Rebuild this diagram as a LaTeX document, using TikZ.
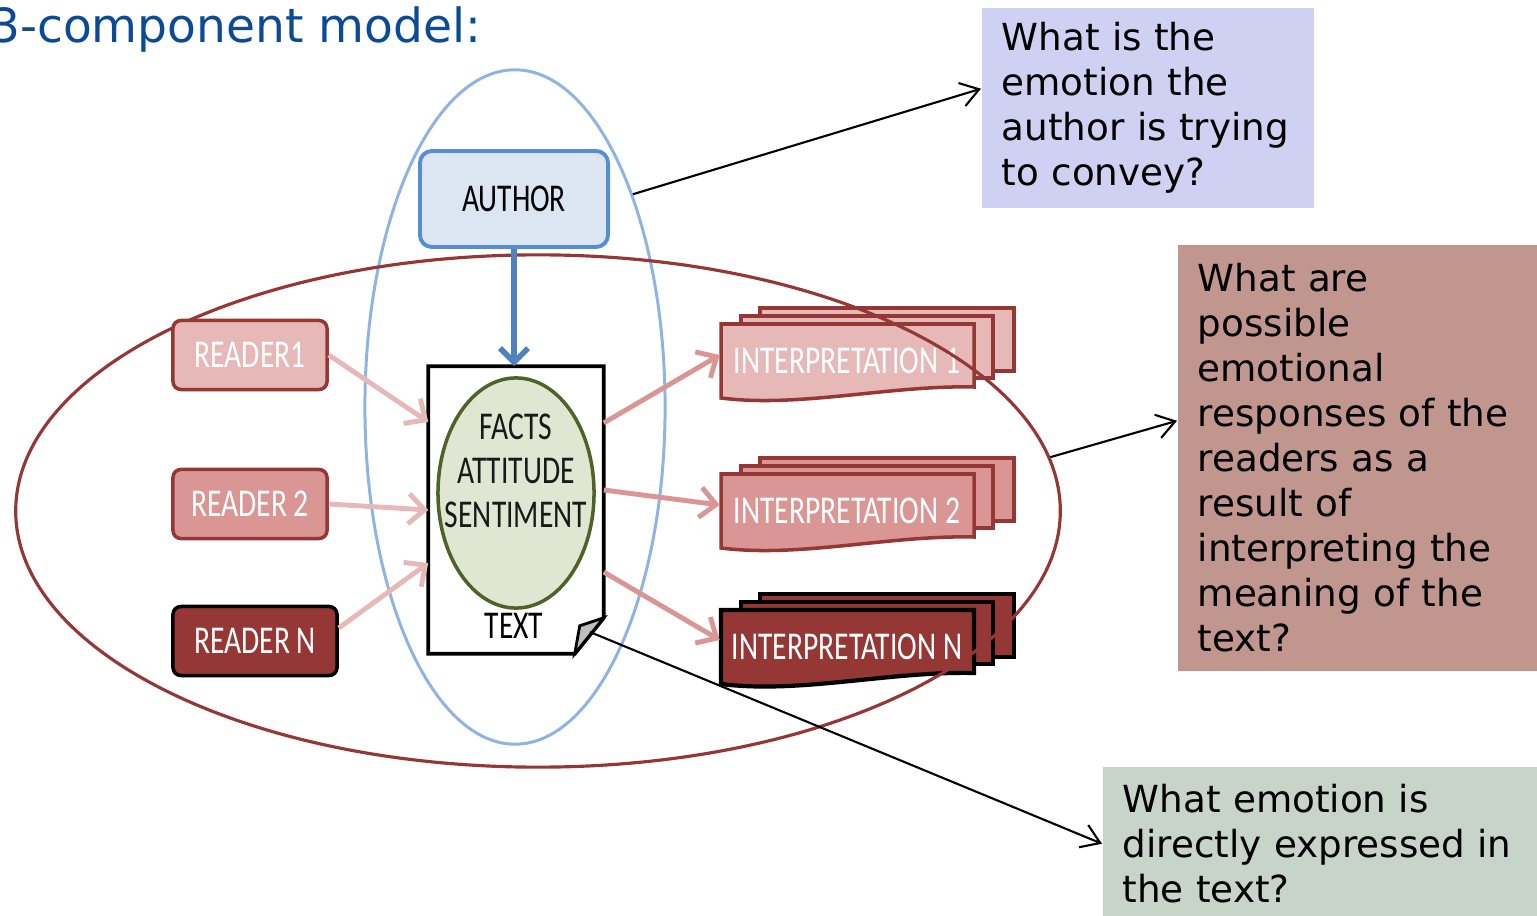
\documentclass[tikz,border=0pt]{standalone}
\usepackage{fontspec}
\setmainfont{DejaVu Sans}
\newfontfamily\calibri[FakeStretch=0.75]{Carlito}
\usetikzlibrary{arrows.meta, positioning, shapes.geometric}
\definecolor{titleblue}{HTML}{0B4A96}
\definecolor{darkred}{HTML}{953735}
\definecolor{pinkA}{HTML}{E6B9B8}
\definecolor{pinkB}{HTML}{D99694}
\definecolor{skyblue}{HTML}{8DB4E2}
\definecolor{authorfill}{HTML}{DCE6F2}
\definecolor{authordraw}{HTML}{558ED5}
\definecolor{arrowblue}{HTML}{4F81BD}
\definecolor{corefill}{HTML}{E1E6D2}
\definecolor{coredraw}{HTML}{4F6228}
\definecolor{qone}{HTML}{D0D0F3}
\definecolor{qtwo}{HTML}{C1968E}
\definecolor{qthree}{HTML}{C8D4CA}
\tikzset{
    boxfont/.style={font=\calibri\fontsize{11.2}{12.5}\selectfont},
    rbox/.style={boxfont, draw=darkred, line width=1pt, rounded corners=0.08cm,
        minimum width=1.54cm, minimum height=0.69cm, text=white},
    authorbox/.style={boxfont, draw=authordraw, fill=authorfill, line width=1.1pt,
        rounded corners=0.12cm, minimum width=1.88cm, minimum height=0.96cm},
    sheet/.style={draw=darkred, line width=1pt},
    itext/.style={boxfont, text=white, minimum width=2.53cm, inner sep=0pt},
    core/.style={ellipse, draw=coredraw, fill=corefill, line width=1pt,
        minimum width=1.56cm, minimum height=2.3cm},
    qbox/.style={anchor=north west, align=left, inner xsep=0.2cm,
        font=\fontsize{10.6}{12.8}\selectfont},
    pinkarrow/.style={-{Straight Barb[length=0.16cm,width=0.3cm]}, line width=1.4pt},
    qline/.style={-{Straight Barb[length=0.18cm,width=0.24cm]}, line width=0.6pt},
}
\begin{document}
\begin{tikzpicture}[x=0.01cm, y=-0.01cm]
    \clip (0,0) rectangle (1537,916);

    \node[anchor=base east, inner sep=0pt, text=titleblue, font=\fontsize{13.4}{16}\selectfont] (ttl) at (482,43) {3-component model:};

    % the author ellipse
    \node[ellipse, draw=skyblue, line width=0.85pt, minimum width=3cm, minimum height=6.74cm] (be) at (515,407) {};

    % interpretations, three sheets each
    \draw[sheet, fill=pinkA] (760,308) rectangle (1014,371);
    \draw[sheet, fill=pinkA] (741,316) rectangle (993,378);
    \draw[sheet, fill=pinkA] (721,324) -- (974,324) -- (974,387) .. controls (890,385) and (800,408) .. (721,398) -- cycle;
    \node[itext] (i1) at (847,361) {INTERPRETATION 1};

    \begin{scope}[shift={(0,150)}]
        \draw[sheet, fill=pinkB] (760,308) rectangle (1014,371);
        \draw[sheet, fill=pinkB] (741,316) rectangle (993,378);
        \draw[sheet, fill=pinkB] (721,324) -- (974,324) -- (974,387) .. controls (890,385) and (800,408) .. (721,398) -- cycle;
        \node[itext] (i2) at (847,361) {INTERPRETATION 2};
    \end{scope}

    \begin{scope}[shift={(0,286)}, sheet/.append style={draw=black, line width=1.2pt}]
        \draw[sheet, fill=darkred] (760,308) rectangle (1014,371);
        \draw[sheet, fill=darkred] (741,316) rectangle (993,378);
        \draw[sheet, fill=darkred] (721,324) -- (974,324) -- (974,387) .. controls (890,385) and (800,408) .. (721,398) -- cycle;
        \node[itext] (i3) at (847,361) {INTERPRETATION N};
    \end{scope}

    % the reader ellipse
    \node[ellipse, draw=darkred, line width=0.9pt, minimum width=10.44cm, minimum height=5.12cm] (re) at (538,511) {};

    \node[rbox, fill=pinkA] (r1) at (250,355) {READER1};
    \node[rbox, fill=pinkB] (r2) at (250,504) {READER 2};
    \node[rbox, fill=darkred, draw=black, minimum width=1.64cm] (r3) at (255,641) {READER N};

    \node[authorbox] (author) at (514,199) {AUTHOR};

    % the text sheet
    \node[minimum width=1.74cm, minimum height=2.86cm, inner sep=0pt] (doc) at (516,510) {};
    \draw[line width=1.1pt, fill=white] (doc.north west) -- (doc.north east) -- ([yshift=0.36cm]doc.south east)
        -- ([xshift=-0.29cm]doc.south east) -- (doc.south west) -- cycle;
    \draw[line width=0.8pt, fill=lightgray] ([yshift=0.36cm]doc.south east) -- ([xshift=-0.24cm,yshift=0.28cm]doc.south east)
        -- ([xshift=-0.29cm]doc.south east) -- cycle;
    \coordinate (fold) at (590,632);
    \node[core] (core) at (516,493) {};
    \node[boxfont, align=center, text=black!90] (facts) at (516,471) {FACTS\\ATTITUDE\\SENTIMENT};
    \node[boxfont] (txt) at (514,626) {TEXT};

    \draw[-{Straight Barb[length=0.14cm,width=0.28cm]}, line width=1.6pt, arrowblue] (author.south) -- (author.south |- doc.north);

    \draw[pinkarrow, pinkA] (r1.east) -- ([yshift=0.88cm]doc.west);
    \draw[pinkarrow, pinkA] (r2.east) -- (doc.west);
    \draw[pinkarrow, pinkA] ([yshift=0.13cm]r3.east) -- ([yshift=-0.53cm]doc.west);

    \draw[pinkarrow, pinkB] ([yshift=0.87cm]doc.east) -- ([yshift=0.06cm]i1.west);
    \draw[pinkarrow, pinkB] ([yshift=0.2cm]doc.east) -- ([yshift=0.06cm]i2.west);
    \draw[pinkarrow, pinkB] ([yshift=-0.62cm]doc.east) -- ([yshift=0.07cm]i3.west);

    % questions
    \node[qbox, fill=qone, text width=2.92cm, minimum height=2cm] (q1) at (981,7)
        {What is the\\emotion the\\author is trying\\to convey?};
    \node[qbox, fill=qtwo, text width=3.5cm, minimum height=4.26cm] (q2) at (1177,244)
        {What are\\possible\\emotional\\responses of the\\readers as a\\result of\\interpreting the\\meaning of the\\text?};
    \node[qbox, fill=qthree, text width=4.1cm, minimum height=1.54cm] (q3) at (1102,766)
        {What emotion is\\directly expressed in\\the text?};

    \draw[qline] (be.61) -- ([yshift=0.19cm]q1.west);
    \draw[qline] (re.6) -- ([yshift=0.37cm]q2.west);
    \draw[qline] (fold) -- (q3.west);
\end{tikzpicture}
\end{document}
